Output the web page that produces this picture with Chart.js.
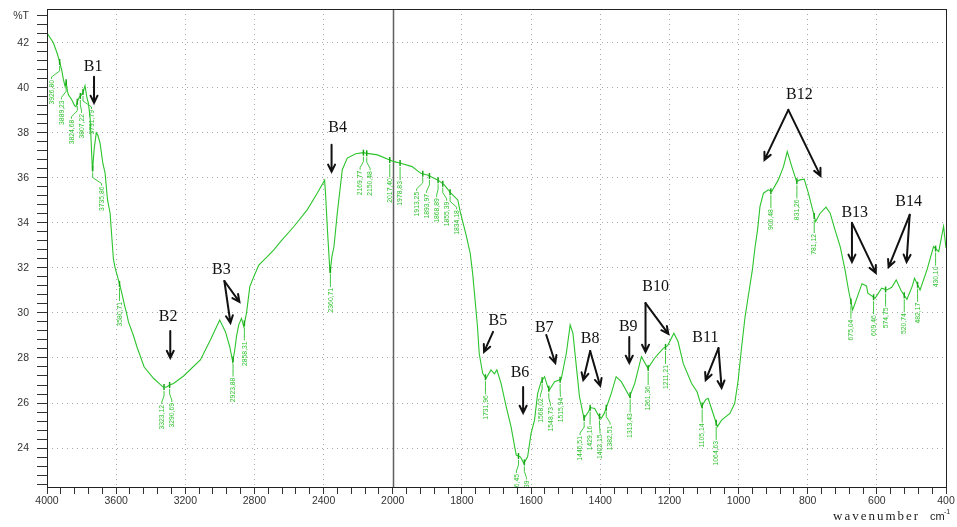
<!DOCTYPE html>
<html>
<head>
<meta charset="utf-8">
<script src="https://cdn.jsdelivr.net/npm/chart.js@4.4.0/dist/chart.umd.min.js"></script>
<style>
    html, body { margin: 0; padding: 0; background: #fff; }
    canvas { display: block; }
</style>
</head>
<body>
<canvas id="ftir" width="957" height="527"></canvas>
<script>
// Spectrum: wavenumber (cm-1) / %T
const wavenumbers = [
    4000, 3963, 3940, 3925, 3915, 3905, 3895, 3889, 3882, 3876, 3857, 3840, 3832, 3824, 3813, 3800,
    3790, 3780, 3770, 3760, 3750, 3743, 3737, 3727, 3715, 3706, 3693, 3677, 3664, 3650, 3635, 3616,
    3606, 3581, 3567, 3556, 3552, 3540, 3529, 3500, 3480, 3438, 3384, 3330, 3310, 3291, 3268, 3210,
    3113, 3055, 3001, 2968, 2943, 2926, 2915, 2904, 2891, 2875, 2862, 2846, 2827, 2804, 2775, 2726,
    2688, 2649, 2572, 2495, 2437, 2394, 2388, 2378, 2363, 2352, 2340, 2321, 2292, 2263, 2214, 2170,
    2157, 2088, 2021, 1996, 1977, 1944, 1919, 1900, 1870, 1851, 1832, 1812, 1805, 1788, 1776, 1769,
    1762, 1755, 1750, 1740, 1730, 1716, 1706, 1699, 1687, 1672, 1658, 1643, 1631, 1621, 1610, 1600,
    1590, 1581, 1571, 1561, 1552, 1547, 1532, 1513, 1498, 1487, 1479, 1470, 1460, 1447, 1434, 1429,
    1416, 1406, 1397, 1388, 1368, 1354, 1339, 1315, 1300, 1281, 1262, 1243, 1218, 1205, 1187, 1175,
    1160, 1136, 1120, 1107, 1095, 1088, 1075, 1061, 1049, 1025, 1011, 1001, 991, 981, 972, 960,
    952, 945, 938, 928, 914, 904, 885, 870, 859, 846, 832, 822, 810, 798, 788, 777,
    764, 747, 735, 721, 706, 692, 682, 670, 658, 643, 630, 626, 605, 586, 571, 557,
    544, 530, 513, 498, 491, 475, 455, 436, 421, 407, 400,
];
const transmittance = [
    42.43, 42.0, 41.5, 41.1, 40.8, 40.36, 40.05, 40.25, 39.85, 39.69, 39.47, 39.2, 39.17, 39.4, 39.59, 39.7,
    39.84, 40.09, 39.6, 39.3, 38.6, 37.3, 36.3, 37.3, 38.0, 37.9, 37.54, 36.65, 36.21, 35.02, 34.43, 32.4,
    32.0, 31.3, 30.87, 30.5, 30.35, 30.0, 29.6, 29.0, 28.5, 27.6, 27.1, 26.72, 26.7, 26.8, 26.87, 27.2,
    27.91, 28.8, 29.69, 29.17, 28.5, 27.84, 28.3, 28.95, 29.47, 29.76, 29.4, 29.99, 31.17, 31.61, 32.13, 32.5,
    32.8, 33.17, 33.84, 34.58, 35.32, 35.9, 35.17, 33.7, 31.76, 32.5, 32.95, 34.43, 36.36, 36.88, 37.07, 37.12,
    37.1, 37.02, 36.8, 36.72, 36.65, 36.5, 36.2, 36.13, 35.91, 35.69, 35.32, 35.02, 34.5, 33.47, 32.65, 31.76,
    30.58, 29.39, 28.2, 27.32, 27.1, 27.47, 27.3, 27.47, 26.88, 25.84, 24.95, 23.69, 23.61, 23.32, 23.61, 24.65,
    25.24, 26.43, 26.95, 27.17, 26.72, 26.58, 26.95, 27.05, 28.21, 29.47, 29.1, 27.76, 26.28, 25.32, 25.61, 25.8,
    25.76, 25.47, 25.32, 25.55, 26.43, 27.17, 26.95, 26.28, 26.88, 28.06, 27.54, 27.99, 28.43, 28.55, 29.1, 28.73,
    27.76, 26.88, 26.5, 25.84, 26.15, 26.21, 25.6, 24.95, 25.24, 25.54, 25.99, 27.02, 28.5, 29.84, 30.73, 31.91,
    32.95, 33.69, 34.72, 35.32, 35.47, 35.39, 35.91, 36.5, 37.17, 36.5, 35.84, 35.91, 35.94, 35.32, 34.72, 34.06,
    34.43, 34.7, 34.43, 33.69, 32.95, 31.91, 31.02, 30.13, 30.65, 31.3, 31.2, 30.88, 30.65, 31.1, 31.02, 31.14,
    31.47, 31.0, 30.61, 31.17, 31.54, 31.02, 31.91, 32.95, 32.72, 33.84, 32.88,
];

// Picked peaks
const peakWavenumbers = [
    3926.80, 3889.23, 3824.68, 3807.22, 3791.79, 3735.86, 3580.71, 3323.12, 3290.69, 2923.88, 2858.31,
    2360.71, 2169.77, 2150.48, 2017.40, 1978.83, 1913.25, 1893.97, 1868.89, 1855.39, 1834.18, 1731.96,
    1636.45, 1619.39, 1568.02, 1548.73, 1515.94, 1446.51, 1429.16, 1402.15, 1382.51, 1313.43, 1261.36,
    1211.21, 1105.14, 1064.63, 906.48, 831.26, 781.12, 675.04, 609.46, 574.75, 520.74, 482.17, 430.10,
];
const peakLabels = peakWavenumbers.map(w => w.toFixed(2).replace('.', ','));

// Band assignments: label position, arrow start, arrow tips (wavenumber, %T)
const bandNames = ['B1', 'B2', 'B3', 'B4', 'B5', 'B6', 'B7', 'B8', 'B9', 'B10', 'B11', 'B12', 'B13', 'B14'];
const bandText = [
    [3733, 40.93], [3299, 29.82], [2991, 31.91], [2319, 38.22], [1696, 29.64], [1632, 27.33], [1562, 29.33],
    [1429, 28.84], [1319, 29.38], [1240, 31.16], [1096, 28.89], [824, 39.69], [664, 34.44], [508, 34.93],
];
const bandArrowFrom = [
    [3728, 40.49], [3287, 29.2], [2974, 31.42], [2354, 37.47], [1710, 29.16], [1623, 26.71], [1556, 29.02],
    [1429, 28.31], [1316, 28.93], [1269, 30.44], [1058, 28.44], [856, 39.02], [672, 34.0], [505, 34.36],
];
const bandArrowTo = [
    [[3728, 39.33]],
    [[3287, 28.0]],
    [[2939, 29.56], [2887, 30.49]],
    [[2354, 36.27]],
    [[1736, 28.27]],
    [[1623, 25.56]],
    [[1530, 27.78]],
    [[1449, 27.02], [1400, 26.76]],
    [[1316, 27.78]],
    [[1269, 28.27], [1203, 29.07]],
    [[1095, 27.02], [1049, 26.67]],
    [[925, 36.8], [763, 36.09]],
    [[672, 32.27], [603, 31.78]],
    [[566, 32.04], [514, 32.27]],
];

// 4000-2000 is drawn at half the scale of 2000-400
function toAxis(wn) {
    return wn >= 2000 ? (4000 - wn) / 2 : 1000 + (2000 - wn);
}
function fromAxis(u) {
    return u <= 1000 ? 4000 - 2 * u : 2000 - (u - 1000);
}

function transmittanceAt(wn) {
    for (let i = 0; i < wavenumbers.length - 1; i++) {
        const a = wavenumbers[i], b = wavenumbers[i + 1];
        if (wn <= a && wn >= b) {
            const t = (a - wn) / (a - b);
            return transmittance[i] + t * (transmittance[i + 1] - transmittance[i]);
        }
    }
    return transmittance[transmittance.length - 1];
}

// push crowded labels apart, keeping each group centred on its peaks
function spreadLabels(xs, gap) {
    let groups = xs.map((x, i) => ({ ids: [i], center: x }));
    let changed = true;
    while (changed) {
        changed = false;
        for (let i = 0; i < groups.length - 1; i++) {
            const a = groups[i], b = groups[i + 1];
            const aEnd = a.center + (a.ids.length - 1) * gap / 2;
            const bStart = b.center - (b.ids.length - 1) * gap / 2;
            if (bStart - aEnd < gap) {
                const ids = a.ids.concat(b.ids);
                const center = ids.reduce((s, k) => s + xs[k], 0) / ids.length;
                groups.splice(i, 2, { ids, center });
                changed = true;
                break;
            }
        }
    }
    const out = [];
    groups.forEach(g => g.ids.forEach((k, j) => {
        out[k] = g.center + (j - (g.ids.length - 1) / 2) * gap;
    }));
    return out;
}

function drawArrow(ctx, x0, y0, x1, y1) {
    const ang = Math.atan2(y1 - y0, x1 - x0);
    const head = 8;
    ctx.beginPath();
    ctx.moveTo(x0, y0);
    ctx.lineTo(x1, y1);
    ctx.moveTo(x1 - head * Math.cos(ang - 0.45), y1 - head * Math.sin(ang - 0.45));
    ctx.lineTo(x1, y1);
    ctx.lineTo(x1 - head * Math.cos(ang + 0.45), y1 - head * Math.sin(ang + 0.45));
    ctx.stroke();
}

const isMajorX = v => v % 200 === 0 && v !== 0 && v !== 1000 && v !== 2600;
const isMajorY = v => Math.abs(v / 2 - Math.round(v / 2)) < 1e-6 && v > 23 && v < 43;

// keep the plot frame fixed, whatever the tick labels ask for
function fixPadding(scale) {
    scale.paddingTop = 0;
    scale.paddingBottom = 0;
    scale.paddingLeft = 0;
    scale.paddingRight = 0;
}

const annotations = {
    id: 'annotations',
    beforeDatasetsDraw(chart) {
        const { ctx, chartArea: a, scales: { x } } = chart;
        const px = Math.round(x.getPixelForValue(toAxis(2000))) + 0.5;
        ctx.save();
        ctx.strokeStyle = '#606060';
        ctx.lineWidth = 1.5;
        ctx.beginPath();
        ctx.moveTo(px, a.top);
        ctx.lineTo(px, a.bottom);
        ctx.stroke();
        ctx.restore();
    },
    afterDatasetsDraw(chart) {
        const { ctx, chartArea: a, scales: { x, y } } = chart;

        // peak marks, leaders and labels
        const peakX = peakWavenumbers.map(w => x.getPixelForValue(toAxis(w)));
        const labelX = spreadLabels(peakX, 10);
        ctx.save();
        ctx.beginPath();
        ctx.rect(a.left, a.top, a.right - a.left, a.bottom - a.top);
        ctx.clip();
        peakWavenumbers.forEach((w, i) => {
            const x0 = peakX[i];
            const yc = y.getPixelForValue(transmittanceAt(w));
            const top = yc + 18;
            ctx.strokeStyle = '#1aa81a';
            ctx.lineWidth = 1.5;
            ctx.beginPath();
            ctx.moveTo(x0, yc - 3);
            ctx.lineTo(x0, yc + 3);
            ctx.stroke();
            ctx.strokeStyle = '#3fc83f';
            ctx.lineWidth = 1;
            ctx.beginPath();
            ctx.moveTo(x0, yc + 4);
            ctx.lineTo(x0, yc + 9);
            ctx.lineTo(labelX[i], top - 3);
            ctx.lineTo(labelX[i], top - 1);
            ctx.stroke();

            ctx.save();
            ctx.translate(labelX[i], top);
            ctx.rotate(-Math.PI / 2);
            ctx.scale(0.85, 1);
            ctx.fillStyle = '#33c233';
            ctx.font = '8px "Liberation Sans", Arial, sans-serif';
            ctx.textAlign = 'right';
            ctx.textBaseline = 'middle';
            ctx.fillText(peakLabels[i], 0, 0);
            ctx.restore();
        });
        ctx.restore();

        // band arrows
        ctx.save();
        ctx.strokeStyle = '#111';
        ctx.fillStyle = '#111';
        ctx.lineWidth = 2;
        ctx.lineCap = 'round';
        ctx.font = '16px "Liberation Serif", "Times New Roman", serif';
        ctx.textAlign = 'center';
        ctx.textBaseline = 'middle';
        bandNames.forEach((name, i) => {
            ctx.fillText(name, x.getPixelForValue(toAxis(bandText[i][0])), y.getPixelForValue(bandText[i][1]));
            const fx = x.getPixelForValue(toAxis(bandArrowFrom[i][0]));
            const fy = y.getPixelForValue(bandArrowFrom[i][1]);
            bandArrowTo[i].forEach(([w, t]) => {
                drawArrow(ctx, fx, fy, x.getPixelForValue(toAxis(w)), y.getPixelForValue(t));
            });
        });
        ctx.restore();

        // frame
        ctx.save();
        ctx.strokeStyle = '#222';
        ctx.lineWidth = 1;
        ctx.strokeRect(Math.round(a.left) + 0.5, Math.round(a.top) + 0.5,
            Math.round(a.right - a.left), Math.round(a.bottom - a.top));
        ctx.restore();

        // axis title
        ctx.save();
        ctx.fillStyle = '#222';
        ctx.textBaseline = 'alphabetic';
        ctx.font = '13px "Liberation Serif", serif';
        ctx.letterSpacing = '2px';
        ctx.fillText('wavenumber', 833, 520);
        ctx.letterSpacing = '0px';
        ctx.font = '11px "Liberation Sans", sans-serif';
        ctx.fillText('cm', 930, 520);
        ctx.font = '7px "Liberation Sans", sans-serif';
        ctx.fillText('-1', 944, 514);
        ctx.restore();
    },
};

new Chart(document.getElementById('ftir'), {
    type: 'line',
    data: {
        datasets: [{
            data: wavenumbers.map((w, i) => ({ x: toAxis(w), y: transmittance[i] })),
            borderColor: '#2cc42c',
            borderWidth: 1.1,
            pointRadius: 0,
            tension: 0,
            fill: false,
        }],
    },
    options: {
        responsive: false,
        animation: false,
        events: [],
        layout: { padding: { left: 0, right: 11, top: 9, bottom: 0 } },
        plugins: {
            legend: { display: false },
            tooltip: { enabled: false },
        },
        scales: {
            x: {
                type: 'linear',
                min: 0,
                max: 2600,
                afterFit: scale => { scale.height = 40; fixPadding(scale); },
                border: { display: false, dash: [1, 4] },
                grid: {
                    color: c => isMajorX(c.tick.value) ? '#a8a8a8' : 'rgba(0,0,0,0)',
                    tickColor: '#333',
                    tickLength: 7,
                    lineWidth: 1,
                },
                ticks: {
                    stepSize: 40,
                    autoSkip: false,
                    maxRotation: 0,
                    padding: 1,
                    color: '#333',
                    font: { family: '"Liberation Sans", Arial, sans-serif', size: 10.5 },
                    callback: v => (v % 200 === 0 ? String(fromAxis(v)) : ''),
                },
            },
            y: {
                min: 22.27,
                max: 43.5,
                afterFit: scale => { scale.width = 47; fixPadding(scale); },
                border: { display: false, dash: [1, 4] },
                grid: {
                    color: c => isMajorY(c.tick.value) ? '#a8a8a8' : 'rgba(0,0,0,0)',
                    tickColor: '#333',
                    tickLength: 10,
                    lineWidth: 1,
                },
                ticks: {
                    stepSize: 0.4,
                    includeBounds: false,
                    autoSkip: false,
                    padding: 8,
                    color: '#333',
                    font: { family: '"Liberation Sans", Arial, sans-serif', size: 10.5 },
                    callback: v => {
                        if (Math.abs(v - 43.2) < 1e-6) return '%T';
                        return Math.abs(v / 2 - Math.round(v / 2)) < 1e-6 ? String(Math.round(v)) : '';
                    },
                },
            },
        },
    },
    plugins: [annotations],
});
</script>
</body>
</html>
